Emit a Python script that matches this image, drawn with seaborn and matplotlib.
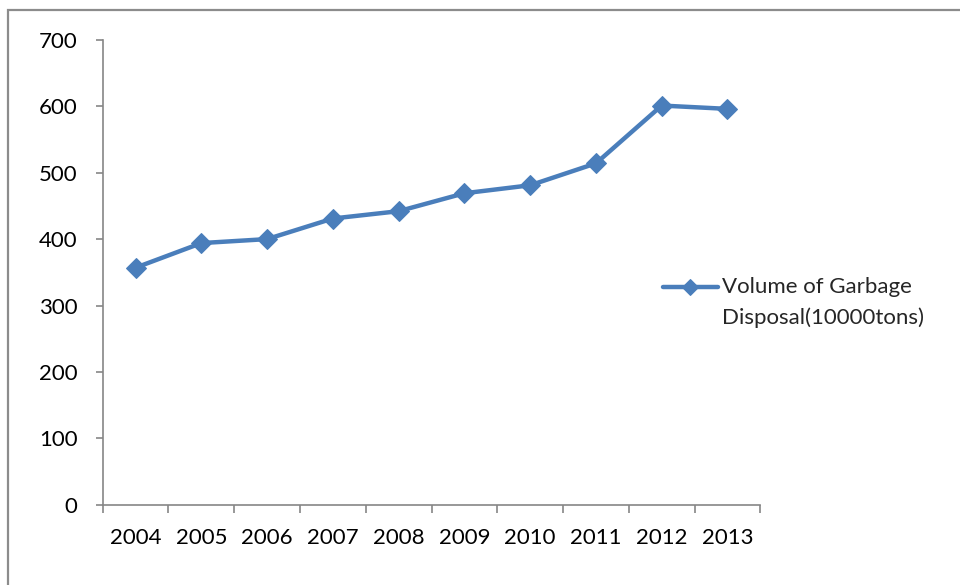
import numpy as np
import pandas as pd
import seaborn as sns
import matplotlib
matplotlib.use("Agg")
from matplotlib import pyplot as plt
from matplotlib.patches import Rectangle
from matplotlib.legend_handler import HandlerLine2D
from matplotlib.transforms import Affine2D

years = ["2004", "2005", "2006", "2007", "2008", "2009", "2010", "2011", "2012", "2013"]
volume = [357, 394, 400, 431, 442, 469, 481, 514, 601, 596]
series_name = "Volume of Garbage\nDisposal(10000tons)"
y_ticks = [0, 100, 200, 300, 400, 500, 600, 700]


class HandlerSus(HandlerLine2D):
    # muta simbolul din legenda in dreptul primului rand de text
    def create_artists(self, legend, orig_handle, xdescent, ydescent, width, height, fontsize, trans):
        return super().create_artists(legend, orig_handle, xdescent, ydescent, width, height,
                                      fontsize, Affine2D().translate(0, 11) + trans)


sns.set_style("white")
plt.rcParams["font.family"] = ["Lato", "DejaVu Sans"]

t = pd.DataFrame({"Year": years, "Volume": volume})

fig = plt.figure(figsize=(9.6, 5.85), dpi=100)
ax = fig.add_axes([0.107, 0.137, 0.685, 0.795])

linie = "#4a7ebb"
sns.lineplot(data=t, x="Year", y="Volume", ax=ax, color=linie, linewidth=3.2,
             marker="D", markersize=10, markeredgecolor=linie, label=series_name,
             sort=False)

ax.set_ylim(0, 700)
ax.set_yticks(y_ticks)
ax.set_xlim(-0.5, len(years) - 0.5)
ax.set_xticks(np.arange(len(years)))
ax.set_xticklabels(years)
ax.set_xticks(np.arange(len(years) + 1) - 0.5, minor=True)
ax.set_xlabel("")
ax.set_ylabel("")

gri = "#868686"
for s in ["top", "right"]:
    ax.spines[s].set_visible(False)
for s in ["left", "bottom"]:
    ax.spines[s].set_color(gri)
    ax.spines[s].set_linewidth(1.2)

fs = 16
ax.tick_params(axis="x", which="major", length=0, pad=17, labelsize=fs, colors="black")
ax.tick_params(axis="x", which="minor", length=6, width=1.2, color=gri, direction="out", bottom=True)
ax.tick_params(axis="y", length=5, width=1.2, color=gri, direction="out", left=True,
               pad=13, labelsize=fs, labelcolor="black")

h, l = ax.get_legend_handles_labels()
leg = ax.legend(h, l, loc="center left", bbox_to_anchor=(0.838, 0.435), frameon=False,
                fontsize=fs, handlelength=2.5, handletextpad=0.15, borderaxespad=0,
                markerscale=0.8, handler_map={type(h[0]): HandlerSus()})
for txt in leg.get_texts():
    txt.set_linespacing(1.6)

# chenar in jurul figurii (ca in Excel)
fig.patches.append(Rectangle((8 / 960, -0.1), 1.1, 0.1 + (1 - 10 / 585),
                             transform=fig.transFigure, fill=False,
                             edgecolor="#8c8c8c", linewidth=1.6, clip_on=False))

fig.savefig("out.png", dpi=100)
